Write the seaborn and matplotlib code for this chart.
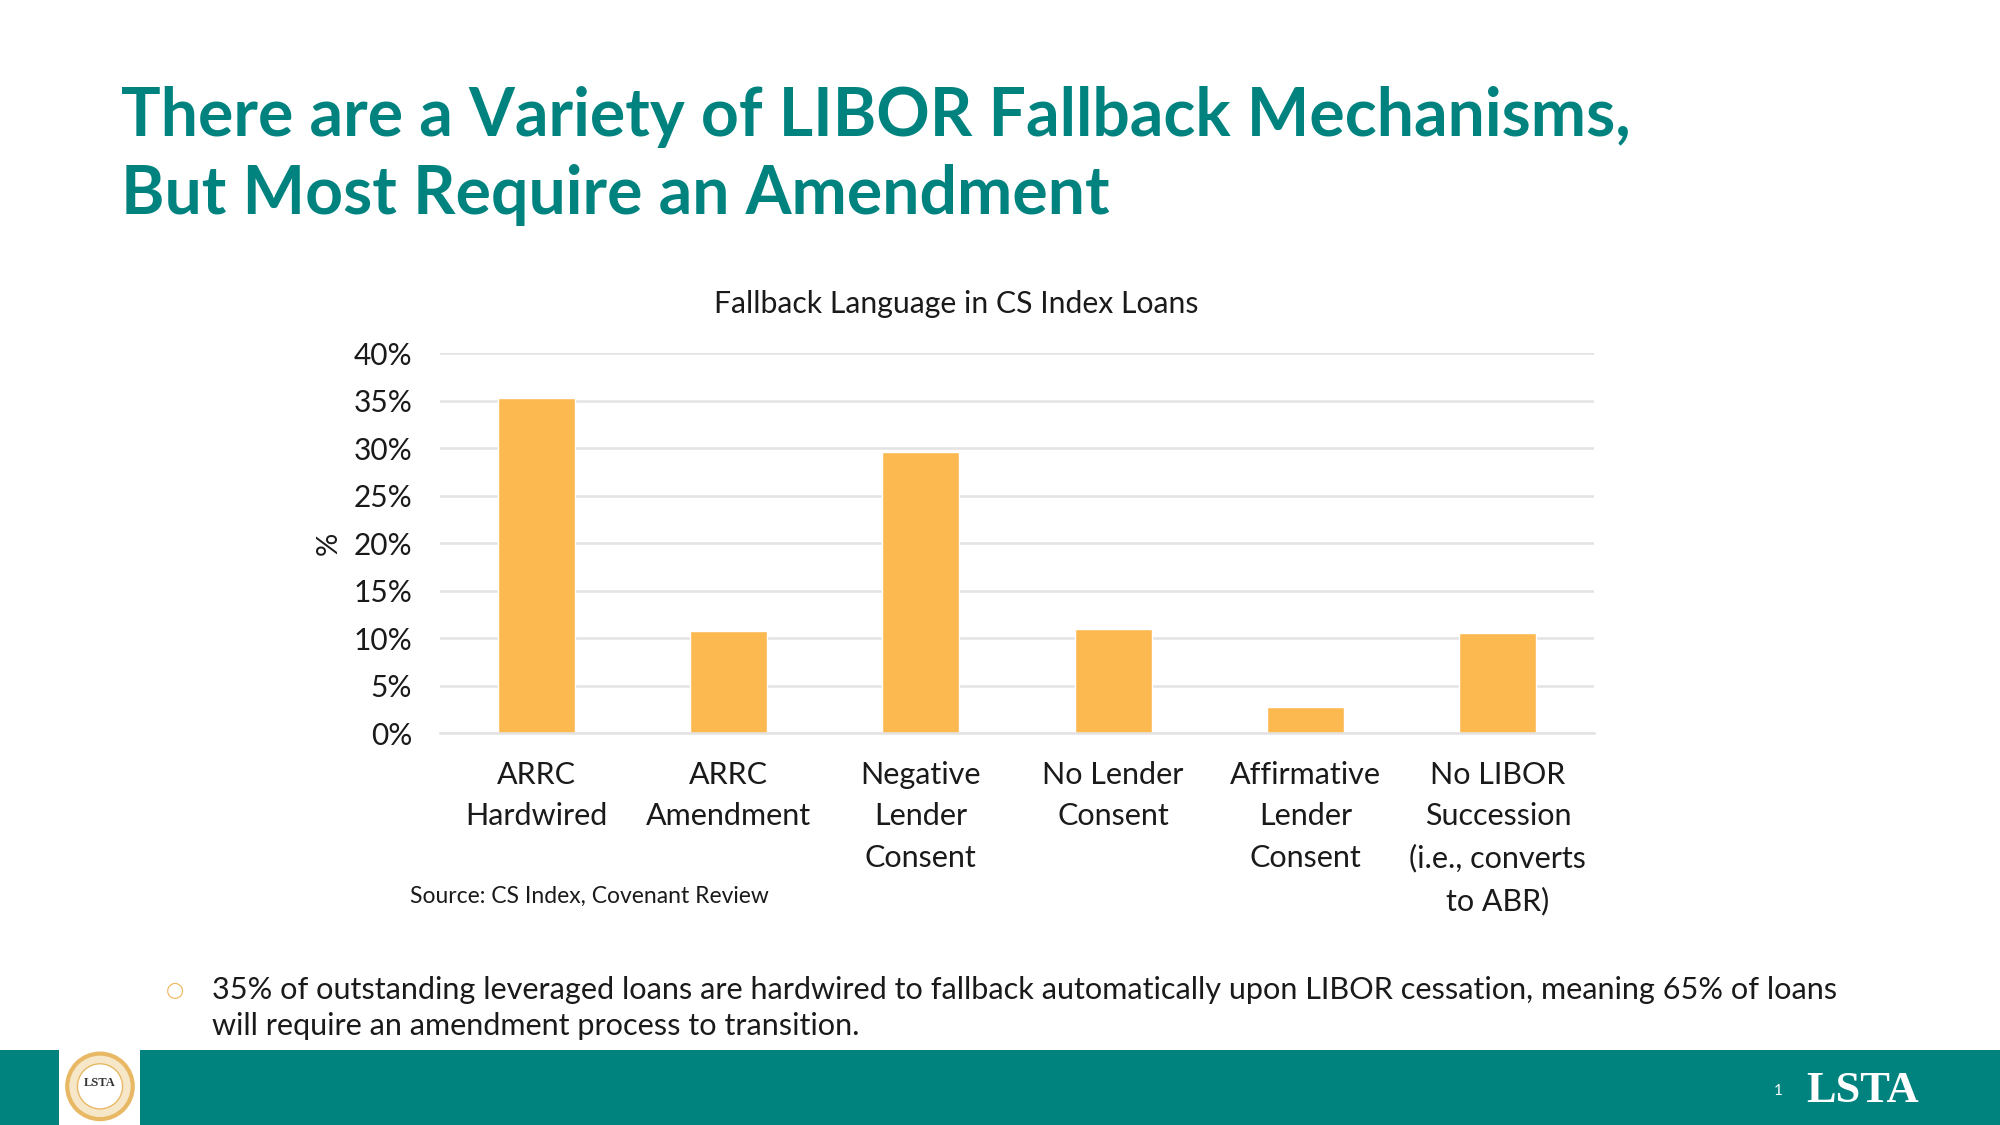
import numpy as np
import pandas as pd
import matplotlib.pyplot as plt
import matplotlib.patches as mpatches
import seaborn as sns

# chart data
categories = ["ARRC\nHardwired", "ARRC\nAmendment", "Negative\nLender\nConsent",
              "No Lender\nConsent", "Affirmative\nLender\nConsent",
              "No LIBOR\nSuccession\n(i.e., converts\nto ABR)"]
shares = [35.3, 10.7, 29.6, 11.0, 2.7, 10.5]
yticks = [0, 5, 10, 15, 20, 25, 30, 35, 40]
ytick_labels = ["0%", "5%", "10%", "15%", "20%", "25%", "30%", "35%", "40%"]

teal = "#00827F"
bar_color = "#FCB950"
txt = "#1A1A1A"

sns.set_theme(style="white")
plt.rcParams['font.family'] = ['Lato', 'DejaVu Sans']

df = pd.DataFrame({"cat": categories, "val": shares})

fig = plt.figure(figsize=(20, 11.25), dpi=100)
fig.patch.set_facecolor("white")

ax = fig.add_axes([0.22, 0.3484, 0.577, 0.3378])
sns.barplot(data=df, x="cat", y="val", color=bar_color, width=0.4,
            saturation=1, ax=ax)
ax.set_ylim(0, 40)
ax.set_yticks(yticks)
ax.set_yticklabels(ytick_labels, fontsize=21.5, color=txt)
ax.set_xticks(range(len(categories)))
ax.set_xticklabels(categories, fontsize=22, color=txt, linespacing=1.58)
ax.tick_params(axis="both", length=0)
ax.tick_params(axis="y", pad=20)
ax.tick_params(axis="x", pad=20)
ax.yaxis.grid(True, color="#E3E3E3", linewidth=1.8)
ax.set_axisbelow(True)
for s in ["top", "right", "left"]:
    ax.spines[s].set_visible(False)
ax.spines["bottom"].set_color("#E3E3E3")
ax.spines["bottom"].set_linewidth(1.8)
ax.set_xlabel("")
ax.set_ylabel("%", fontsize=21, color=txt, labelpad=8)

# chart title, centred over the whole chart block
fig.text(0.478, 0.730, "Fallback Language in CS Index Loans", fontsize=21.7,
         color=txt, ha="center", va="center")

# slide title
fig.text(0.0605, 0.896, "There are a Variety of LIBOR Fallback Mechanisms,",
         fontsize=47.6, fontweight="bold", color=teal, va="center")
fig.text(0.0605, 0.827, "But Most Require an Amendment",
         fontsize=47.6, fontweight="bold", color=teal, va="center")

fig.text(0.205, 0.203, "Source: CS Index, Covenant Review", fontsize=16.5,
         color=txt, va="center")

# bullet
fig.text(0.083, 0.12, "\u25cb", fontsize=15, color="#F0B860", va="center",
         family=["DejaVu Sans"])
fig.text(0.106, 0.12,
         "35% of outstanding leveraged loans are hardwired to fallback automatically upon LIBOR cessation, meaning 65% of loans",
         fontsize=22.1, color=txt, va="center")
fig.text(0.106, 0.088, "will require an amendment process to transition.",
         fontsize=22.1, color=txt, va="center")

# footer band
fig.patches.append(mpatches.Rectangle((0, 0), 1, 0.0667, transform=fig.transFigure,
                                      facecolor=teal, edgecolor="none", zorder=-2))
fig.patches.append(mpatches.Rectangle((0.0295, 0), 0.0405, 0.0667,
                                      transform=fig.transFigure,
                                      facecolor="white", edgecolor="none", zorder=-1))
logo_ax = fig.add_axes([0.031, 0.002, 0.038, 0.0647])
logo_ax.set_zorder(5)
logo_ax.patch.set_alpha(0)
logo_ax.set_xlim(-1, 1)
logo_ax.set_ylim(-1, 1)
logo_ax.set_aspect("equal")
logo_ax.axis("off")
logo_ax.add_patch(mpatches.Circle((0, 0), 0.9, facecolor="#F6E7C8",
                                  edgecolor="#E8B865", linewidth=3))
logo_ax.add_patch(mpatches.Circle((0, 0), 0.62, facecolor="white",
                                  edgecolor="#E8B865", linewidth=1))
logo_ax.text(0, 0.08, "LSTA", ha="center", va="center", fontsize=9,
             family=["Liberation Serif"], fontweight="bold", color="#333333")

fig.text(0.887, 0.030, "1", fontsize=11, color="white", va="center")
fig.text(0.903, 0.030, "LSTA", fontsize=32, color="white", va="center",
         family=["Liberation Serif"], fontweight="bold")

fig.savefig("out.png", dpi=100)
